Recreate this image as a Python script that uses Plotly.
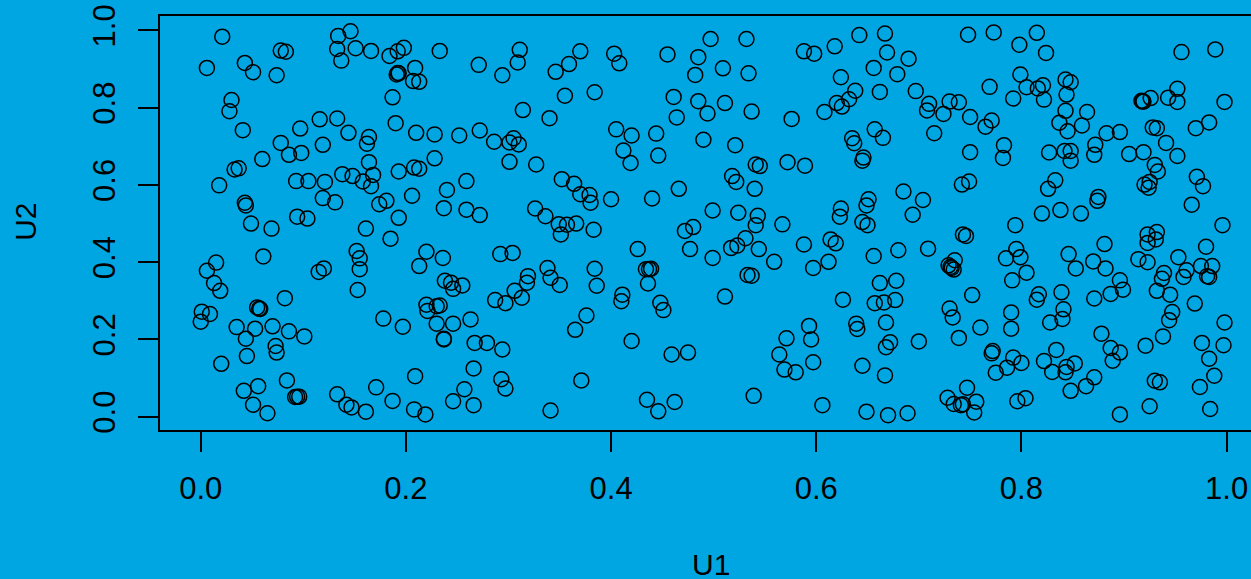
import plotly.graph_objects as go

U1 = [
.021,.006,.043,.051,.074,.078,.083,.134,.146,.133,.151,.166,.137,.184,.192,.198,.209,.191,.192,.193,.207,.213,.187,.030,.028,.041,.097,.116,.133,.144,.164,.162,.190,.210,.078,.086,.098,.119,.060,.033,.037,.018,.164,.193,.208,.213,.093,.105,.121,.138,.148,.168,.158,.166,.119,.131,.206,.181,.174,.043,.044,.193,.094,.104,
.049,.069,.161,.185,.220,.213,.061,.015,.006,.013,.019,.152,.155,.155,.153,.120,.115,.082,.055,.057,.058,.001,.009,.000,.035,.053,.070,.086,.101,.044,.073,.074,.045,.178,.197,.220,.221,.020,.209,.084,.056,.042,.051,.065,.092,.096,.094,.133,.142,.147,.161,.171,.187,.208,.219,
.236,.292,.304,.349,.357,.366,.351,.383,.426,.472,.480,.477,.238,.244,.255,.246,.338,.341,.350,.384,.386,.319,.318,.306,.313,.287,.297,.434,.439,.437,.436,.411,.410,.448,.451,.233,.230,.230,.246,.263,.376,.365,.237,.237,.267,.279,.294,.420,.459,.475,.266,.293,.297,.257,.246,.266,.371,.341,.435,.446,.462,
.233,.271,.294,.311,.309,.346,.359,.370,.403,.408,.455,.355,.384,.461,.464,.314,.340,.405,.420,.444,.228,.252,.272,.286,.301,.305,.310,.228,.301,.327,.412,.419,.446,.259,.240,.352,.364,.370,.379,.380,.400,.440,.466,.237,.259,.272,.326,.336,
.497,.532,.485,.482,.509,.534,.485,.511,.494,.537,.490,.521,.576,.588,.598,.618,.642,.667,.669,.690,.656,.679,.624,.662,.638,.632,.620,.625,.608,.697,.710,.708,.724,.730,.739,.715,.657,.665,.635,.637,.646,.645,.541,.545,.572,.589,.518,.522,.540,.685,.704,.694,.651,.649,.624,.623,.499,.524,.543,.748,.750,.750,.742,.749,
.541,.567,.645,.650,.499,.531,.523,.517,.544,.559,.588,.614,.619,.612,.597,.656,.680,.709,.743,.746,.735,.729,.731,.732,.734,.533,.537,.511,.626,.662,.678,.657,.666,.677,.668,.639,.640,.593,.595,.571,.564,.569,.580,.597,.672,.668,.700,.645,.667,.730,.733,.739,.539,.606,.649,.670,.689,.728,.734,.741,.743,.747,
.773,.798,.815,.824,.956,.989,.799,.769,.805,.816,.821,.792,.822,.843,.848,.844,.843,.864,.837,.859,.845,.771,.765,.883,.896,.783,.782,.827,.842,.848,.848,.872,.871,.905,.919,.930,.933,.920,.925,.924,.971,.977,.833,.826,.875,.874,.838,.820,.858,.966,.917,.918,.919,.926,.943,.952,.952,.998,.928,.932,.941,.952,.970,.983,
.794,.996,.923,.932,.931,.923,.881,.980,.795,.799,.785,.846,.870,.882,.853,.914,.923,.953,.975,.986,.961,.958,.981,.983,.939,.937,.805,.791,.896,.899,.887,.871,.932,.945,.969,.839,.817,.815,.752,.790,.841,.840,.828,.947,.944,.998,.790,.760,.878,.938,.921,.976,.997,.887,.896,.889,.983,.772,.771,.834,.792,.800,.786,.775,.822,.852,.844,.843,.830,.871,.863,.848,.988,.974,.930,.935,.925,.984,.896,.804,.796,.756,.754,
]

U2 = [
.984,.903,.916,.892,.884,.948,.945,.986,.998,.952,.954,.947,.922,.934,.946,.955,.903,.886,.890,.889,.869,.867,.827,.820,.791,.742,.746,.770,.772,.735,.724,.707,.760,.735,.709,.678,.683,.704,.667,.640,.643,.599,.659,.635,.645,.642,.610,.610,.608,.628,.623,.626,.609,.597,.566,.555,.572,.559,.550,.554,.547,.515,.518,.513,
.500,.487,.487,.461,.427,.390,.415,.399,.378,.346,.326,.429,.410,.382,.328,.384,.375,.307,.283,.280,.279,.272,.266,.246,.232,.228,.234,.221,.208,.202,.183,.166,.157,.254,.233,.290,.274,.137,.105,.094,.079,.067,.031,.009,.051,.052,.052,.058,.031,.024,.013,.076,.041,.019,.006,
.411,.421,.424,.498,.497,.500,.472,.484,.434,.481,.491,.434,.352,.347,.340,.331,.385,.360,.341,.383,.339,.364,.347,.326,.308,.302,.294,.382,.383,.382,.345,.316,.299,.295,.276,.288,.286,.241,.241,.252,.262,.225,.202,.200,.191,.191,.174,.196,.161,.166,.125,.097,.073,.071,.040,.030,.094,.016,.044,.014,.038,
.947,.911,.884,.950,.917,.893,.913,.946,.940,.915,.938,.831,.840,.828,.775,.794,.773,.744,.728,.733,.731,.728,.741,.712,.710,.721,.705,.669,.660,.653,.689,.657,.676,.610,.587,.615,.603,.576,.574,.554,.563,.565,.590,.540,.536,.522,.539,.519,
.978,.978,.931,.885,.902,.889,.817,.812,.785,.790,.717,.703,.771,.946,.940,.959,.988,.992,.943,.927,.903,.887,.879,.841,.844,.822,.812,.803,.789,.843,.810,.793,.784,.816,.814,.734,.744,.722,.721,.708,.671,.663,.653,.649,.659,.650,.623,.608,.590,.583,.561,.523,.563,.547,.539,.518,.534,.528,.520,.989,.776,.685,.601,.609,
.496,.498,.504,.496,.411,.462,.443,.437,.434,.401,.446,.459,.449,.401,.385,.416,.431,.435,.472,.468,.405,.392,.388,.385,.381,.367,.365,.311,.303,.346,.352,.294,.296,.302,.244,.241,.227,.235,.200,.203,.161,.122,.115,.141,.193,.180,.195,.132,.107,.280,.257,.204,.054,.030,.013,.004,.009,.049,.033,.030,.032,.075,
.995,.963,.994,.942,.944,.951,.886,.854,.853,.850,.858,.824,.821,.873,.866,.834,.792,.789,.761,.754,.739,.767,.751,.734,.737,.703,.670,.684,.688,.688,.663,.704,.678,.680,.685,.652,.635,.601,.608,.593,.621,.597,.612,.590,.569,.559,.535,.526,.526,.549,.818,.816,.816,.825,.826,.849,.815,.815,.749,.747,.709,.675,.747,.762,
.496,.496,.472,.478,.459,.450,.447,.440,.434,.413,.410,.421,.402,.384,.384,.408,.400,.413,.390,.390,.379,.362,.364,.362,.372,.357,.373,.353,.353,.329,.318,.306,.326,.316,.293,.322,.317,.303,.315,.270,.278,.253,.244,.271,.250,.244,.228,.231,.215,.208,.184,.191,.185,.178,.166,.145,.150,.170,.164,.173,.153,.139,.127,.114,.144,.138,.129,.115,.116,.102,.079,.067,.106,.077,.093,.089,.027,.020,.006,.048,.040,.039,.011,
]

X_TICKS = [0.0, 0.2, 0.4, 0.6, 0.8, 1.0]
Y_TICKS = [0.0, 0.2, 0.4, 0.6, 0.8, 1.0]
TICK_TEXT = ["0.0", "0.2", "0.4", "0.6", "0.8", "1.0"]
X_LABEL = "U1"
Y_LABEL = "U2"
BG = "#00A6E2"
FONT = dict(family="Liberation Sans, Arial, sans-serif", size=31, color="black")
TITLE_FONT = dict(family="Liberation Sans, Arial, sans-serif", size=30, color="black")
L, R, T, B = 159.5, 0, 15.5, 149
PW, PH = 1251 - L - R, 579 - T - B

fig = go.Figure(go.Scatter(
    x=U1, y=U2, mode="markers",
    marker=dict(symbol="circle-open", size=15, color="black", line=dict(width=1.5, color="black")),
    showlegend=False,
))
fig.update_layout(
    width=1251, height=579,
    autosize=False,
    paper_bgcolor=BG, plot_bgcolor=BG,
    font=FONT,
    margin=dict(l=L, r=R, t=T, b=B, pad=0),
    xaxis=dict(
        range=[-0.0397, 1.0238], tickvals=X_TICKS, ticktext=TICK_TEXT,
        showgrid=False, zeroline=False, showline=True, mirror=True,
        linecolor="black", linewidth=1.5, ticks="outside", ticklen=20, tickwidth=1.5, tickcolor="black",
        ticklabelstandoff=10, tickfont=FONT,
    ),
    yaxis=dict(
        range=[-0.0344, 1.0375], tickvals=Y_TICKS, ticktext=TICK_TEXT, tickangle=-90,
        showgrid=False, zeroline=False, showline=True,
        linecolor="black", linewidth=1.5, ticks="outside", ticklen=20, tickwidth=1.5, tickcolor="black",
        ticklabelstandoff=11, tickfont=FONT,
    ),
    annotations=[
        dict(text=X_LABEL, xref="paper", yref="paper", x=(711 - L) / PW, y=(579 - B - 565) / PH,
             xanchor="center", yanchor="middle", showarrow=False, font=TITLE_FONT),
        dict(text=Y_LABEL, xref="paper", yref="paper", x=(25 - L) / PW, y=(579 - B - 222) / PH,
             xanchor="center", yanchor="middle", showarrow=False, textangle=-90, font=TITLE_FONT),
    ],
)
fig.write_html("out.html", config=dict(displayModeBar=False), post_script="document.body.style.margin='0';document.documentElement.style.overflow='hidden';")
